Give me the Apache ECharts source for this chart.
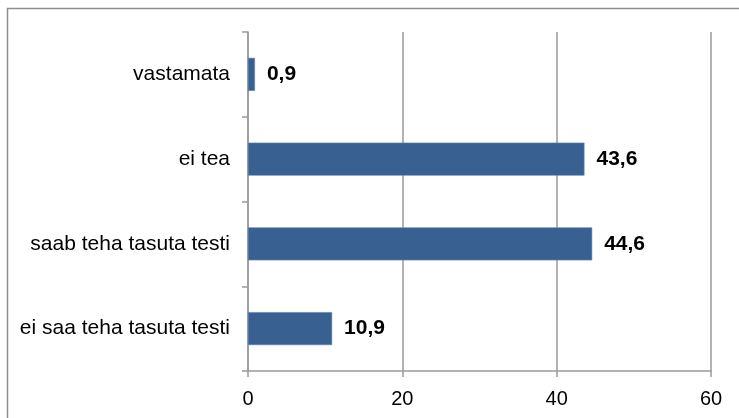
<!DOCTYPE html>
<html>
<head>
<meta charset="utf-8">
<script src="https://cdn.jsdelivr.net/npm/echarts@6/dist/echarts.min.js"></script>
<style>html,body{margin:0;padding:0;background:#fff}#c{width:739px;height:418px}</style>
</head>
<body>
<div id="c"></div>
<script>
var categories = ["ei saa teha tasuta testi", "saab teha tasuta testi", "ei tea", "vastamata"];
var values = [10.9, 44.6, 43.6, 0.9];
var xTicks = [0, 20, 40, 60];

var chart = echarts.init(document.getElementById('c'), null, {renderer: 'canvas'});
chart.setOption({
  animation: false,
  backgroundColor: '#ffffff',
  textStyle: {fontFamily: 'Liberation Sans, Arial, sans-serif'},
  graphic: [{
    type: 'rect', silent: true,
    shape: {x: 7.5, y: 8.5, width: 800, height: 500},
    style: {fill: 'none', stroke: '#8e8e8e', lineWidth: 1.5}
  }],
  grid: {left: 248, right: 28, top: 32, bottom: 47, containLabel: false},
  xAxis: {
    type: 'value', min: xTicks[0], max: xTicks[xTicks.length - 1], interval: 20,
    axisLine: {show: true, lineStyle: {color: '#9a9a9a', width: 1.5}},
    axisTick: {show: true, length: 6, lineStyle: {color: '#9a9a9a', width: 1.5}},
    axisLabel: {color: '#000', fontSize: 20, margin: 18, fontFamily: 'Liberation Sans, Arial, sans-serif'},
    splitLine: {show: true, lineStyle: {color: '#9a9a9a', width: 1.5}}
  },
  yAxis: {
    type: 'category', data: categories,
    axisLine: {show: true, lineStyle: {color: '#9a9a9a', width: 1.5}},
    axisTick: {show: true, length: 6, lineStyle: {color: '#9a9a9a', width: 1.5}},
    axisLabel: {color: '#000', fontSize: 21, margin: 18, padding: [3, 0, 0, 0], fontFamily: 'Liberation Sans, Arial, sans-serif'},
    splitLine: {show: false}
  },
  series: [{
    type: 'bar', data: values, barWidth: 33,
    itemStyle: {color: '#386192', borderColor: '#5a80b0', borderWidth: 0.6},
    label: {
      show: true, position: 'right', distance: 12,
      color: '#000', fontWeight: 'bold', fontSize: 21, padding: [3, 0, 0, 0],
      fontFamily: 'Liberation Sans, Arial, sans-serif',
      formatter: function (p) { return String(p.value).replace('.', ','); }
    }
  }]
});
</script>
</body>
</html>
